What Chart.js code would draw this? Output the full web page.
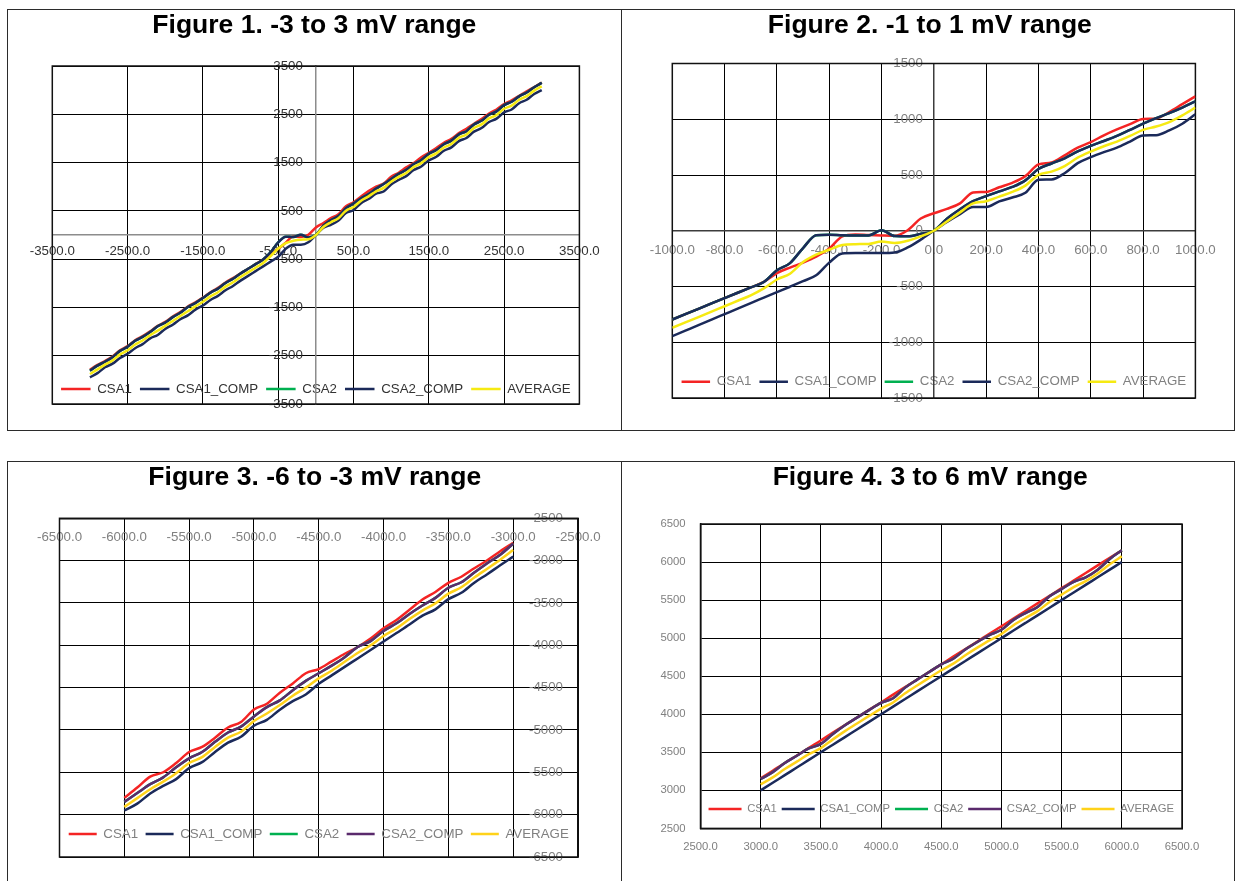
<!DOCTYPE html>
<html>
<head>
<meta charset="utf-8">
<title>CSA linearity</title>
<script src="https://cdn.jsdelivr.net/npm/chart.js@4.4.1/dist/chart.umd.min.js"></script>
<style>
  html, body { margin: 0; padding: 0; background: #fff; }
  body { width: 1236px; height: 881px; position: relative; overflow: hidden; }
  .panel { position: absolute; border: 1px solid #2b2b2b; box-sizing: border-box; background: #fff; }
  canvas { position: absolute; }
</style>
</head>
<body>
<div class="panel" style="left:7px;top:9px;width:615px;height:422px"></div>
<div class="panel" style="left:621px;top:9px;width:614px;height:422px"></div>
<div class="panel" style="left:7px;top:461px;width:615px;height:430px"></div>
<div class="panel" style="left:621px;top:461px;width:614px;height:430px"></div>
<canvas id="c1" width="612" height="419" style="left:8px;top:10px"></canvas>
<canvas id="c2" width="611" height="419" style="left:622px;top:10px"></canvas>
<canvas id="c3" width="612" height="419" style="left:8px;top:462px"></canvas>
<canvas id="c4" width="611" height="419" style="left:622px;top:462px"></canvas>
<script>
// ---- Figure 1: -3 to 3 mV (input, uV) ----
const f1X = [-3000,-2900,-2800,-2700,-2600,-2500,-2400,-2300,-2200,-2100,-2000,-1900,-1800,-1700,-1600,-1500,-1400,-1300,-1200,-1100,
  -1000,-900,-800,-700,-600,-500,-400,-300,-200,-100,0,100,200,300,400,500,600,700,800,900,1000,
  1100,1200,1300,1400,1500,1600,1700,1800,1900,2000,2100,2200,2300,2400,2500,2600,2700,2800,2900,3000];
const f1Csa1 = [-2790,-2690,-2610,-2515,-2385,-2300,-2180,-2095,-1995,-1880,-1800,-1690,-1595,-1480,-1395,-1295,-1185,-1095,-985,-890,
  -796,-700,-604,-508,-380,-286,-160,-33,-42,5,157,246,348,430,595,676,795,909,1003,1065,1205,
  1290,1400,1490,1610,1700,1800,1910,1990,2110,2200,2305,2400,2515,2600,2710,2790,2880,2975,3065,3157];
const f1Csa1Comp = [-2948,-2860,-2740,-2665,-2545,-2460,-2345,-2260,-2140,-2070,-1945,-1860,-1745,-1665,-1545,-1460,-1345,-1260,-1145,-1055,
  -945,-847,-748,-649,-551,-452,-286,-200,-200,-150,0,149,212,298,457,516,660,745,855,900,1045,
  1140,1220,1345,1420,1545,1620,1745,1815,1945,2010,2140,2215,2340,2410,2540,2600,2730,2800,2920,3000];
const f1Csa2Comp = [-2810,-2705,-2625,-2530,-2400,-2315,-2190,-2110,-2010,-1890,-1815,-1700,-1610,-1490,-1410,-1305,-1195,-1110,-995,-905,
  -796,-700,-604,-508,-355,-155,-35,-42,5,-50,0,193,311,393,554,650,762,850,960,1055,1160,
  1265,1350,1470,1555,1680,1760,1880,1955,2085,2150,2290,2365,2490,2560,2690,2760,2870,2950,3060,3149];
const f1Csa2 = f1Csa2Comp;
const f1Avg = [-2879,-2783,-2683,-2598,-2473,-2388,-2268,-2185,-2075,-1980,-1880,-1780,-1678,-1578,-1478,-1383,-1270,-1185,-1070,-980,
  -870,-774,-677,-579,-437,-281,-170,-120,-96,-90,0,165,265,348,502,580,710,800,905,975,1104,
  1203,1285,1408,1488,1612,1690,1812,1885,2015,2080,2215,2290,2415,2485,2615,2680,2800,2875,2990,3079];
const f1XTicks = [-3500,-2500,-1500,-500,500,1500,2500,3500];
const f1YTicks = [-3500,-2500,-1500,-500,500,1500,2500,3500];

// ---- Figure 2: -1 to 1 mV ----
const f2X = [-1000,-950,-900,-850,-800,-750,-700,-650,-600,-550,-500,-450,-400,-350,-300,-250,-200,-150,-100,-50,
  0,50,100,150,200,250,300,350,400,450,500,550,600,650,700,750,800,850,900,950,1000];
const f2Csa1 = [-796,-748,-700,-652,-604,-556,-508,-458,-380,-330,-286,-232,-160,-50,-33,-38,-42,-45,5,110,
  157,196,246,343,348,390,430,490,595,612,676,746,795,856,909,956,1003,1007,1065,1135,1205];
const f2Csa1Comp = [-945,-896,-847,-797,-748,-699,-649,-600,-551,-502,-452,-400,-286,-203,-200,-200,-200,-195,-150,-80,
  0,79,149,214,212,263,298,341,457,460,516,606,660,705,745,800,855,857,900,960,1045];
const f2Csa2Comp = [-796,-748,-700,-652,-604,-556,-508,-460,-355,-290,-155,-40,-35,-40,-42,-42,5,-48,-50,-28,
  0,109,193,265,311,353,393,452,554,603,650,711,762,805,850,905,960,1010,1055,1105,1160];
const f2Csa2 = f2Csa2Comp;
const f2Avg = [-870,-822,-774,-725,-677,-628,-579,-517,-437,-385,-281,-215,-170,-128,-120,-118,-96,-110,-90,-50,
  0,83,165,245,265,306,348,405,502,530,580,655,710,758,800,850,905,935,975,1035,1104];
const f2XTicks = [-1000,-800,-600,-400,-200,0,200,400,600,800,1000];
const f2YTicks = [-1500,-1000,-500,0,500,1000,1500];

// ---- Figure 3: -6 to -3 mV ----
const f3X = [-6000,-5900,-5800,-5700,-5600,-5500,-5400,-5300,-5200,-5100,-5000,-4900,-4800,-4700,-4600,-4500,
  -4400,-4300,-4200,-4100,-4000,-3900,-3800,-3700,-3600,-3500,-3400,-3300,-3200,-3100,-3000];
const f3Csa1 = [-5802,-5680,-5550,-5499,-5390,-5260,-5200,-5091,-4970,-4906,-4758,-4690,-4560,-4450,-4330,-4280,
  -4190,-4100,-4020,-3920,-3800,-3700,-3580,-3460,-3370,-3262,-3190,-3090,-2995,-2890,-2790];
const f3Csa1Comp = [-5951,-5870,-5750,-5660,-5580,-5450,-5380,-5260,-5150,-5080,-4950,-4880,-4760,-4660,-4580,-4455,
  -4355,-4255,-4155,-4055,-3955,-3855,-3755,-3650,-3575,-3455,-3380,-3260,-3160,-3055,-2953];
const f3Csa2Comp = [-5849,-5745,-5640,-5560,-5440,-5335,-5260,-5140,-5030,-4960,-4840,-4730,-4650,-4530,-4420,-4330,
  -4240,-4140,-4020,-3950,-3830,-3740,-3630,-3530,-3440,-3320,-3255,-3140,-3030,-2930,-2800];
const f3Csa2 = f3Csa2Comp;
const f3Avg = [-5908,-5805,-5700,-5610,-5510,-5390,-5320,-5200,-5090,-5020,-4895,-4805,-4705,-4595,-4500,-4390,
  -4300,-4195,-4090,-4000,-3890,-3800,-3690,-3590,-3505,-3390,-3315,-3200,-3095,-2990,-2875];
const f3XTicks = [-6500,-6000,-5500,-5000,-4500,-4000,-3500,-3000,-2500];
const f3YTicks = [-6500,-6000,-5500,-5000,-4500,-4000,-3500,-3000,-2500];

// ---- Figure 4: 3 to 6 mV ----
const f4X = [3000,3100,3200,3300,3400,3500,3600,3700,3800,3900,4000,4100,4200,4300,4400,4500,
  4600,4700,4800,4900,5000,5100,5200,5300,5400,5500,5600,5700,5800,5900,6000];
const f4Csa1 = [3157,3258,3360,3458,3558,3655,3758,3858,3957,4058,4155,4258,4357,4456,4557,4656,
  4758,4857,4956,5058,5157,5256,5357,5457,5556,5657,5756,5856,5957,6056,6153];
const f4Csa1Comp = [3000,3100,3200,3300,3400,3500,3600,3700,3800,3900,4000,4100,4200,4300,4400,4500,
  4600,4700,4800,4900,5000,5100,5200,5300,5400,5500,5600,5700,5800,5900,6000];
const f4Csa2Comp = [3149,3240,3360,3455,3550,3610,3740,3855,3955,4055,4150,4210,4350,4455,4555,4655,
  4730,4850,4950,5040,5110,5240,5330,5410,5550,5645,5740,5800,5900,6040,6155];
const f4Csa2 = f4Csa2Comp;
const f4Avg = [3079,3170,3280,3378,3475,3555,3670,3778,3878,3978,4075,4155,4275,4378,4478,4578,
  4665,4775,4875,4970,5055,5170,5265,5355,5475,5572,5670,5750,5850,5970,6075];
const f4XTicks = [2500,3000,3500,4000,4500,5000,5500,6000,6500];
const f4YTicks = [2500,3000,3500,4000,4500,5000,5500,6000,6500];

const SERIES = ['CSA1', 'CSA1_COMP', 'CSA2', 'CSA2_COMP', 'AVERAGE'];
const FONT = '"Liberation Sans", Arial, Helvetica, sans-serif';
const RED = '#f42424', NAVY = '#1b2a5a', GREEN = '#00b050', PURPLE = '#5a2a6c';
const YELLOW = '#f6ea12', GOLD = '#ffd21a';

// places the legend row inside the plot box (just above its lower edge)
// and nudges the heading sideways
const blockPlacement = {
  id: 'blockPlacement',
  afterLayout(chart, args, opts) {
    const lg = chart.legend;
    if (lg && opts.legendRise != null) {
      const lab = lg.options.labels;
      const h = lg.height;
      lg.top = chart.chartArea.bottom - opts.legendRise - lab.padding - lab.font.size / 2;
      lg.bottom = lg.top + h;
    }
    const tb = chart.titleBlock;
    if (tb && opts.titleShift) {
      tb.left += opts.titleShift;
      tb.right += opts.titleShift;
    }
  }
};

// outline of the plot box
const plotFrame = {
  id: 'plotFrame',
  beforeDatasetsDraw(chart, args, opts) {
    const a = chart.chartArea, ctx = chart.ctx;
    ctx.save();
    ctx.strokeStyle = opts.color || '#000';
    ctx.lineWidth = opts.width || 1.5;
    ctx.strokeRect(a.left, a.top, a.right - a.left, a.bottom - a.top);
    ctx.restore();
  }
};

function points(xs, ys) {
  return xs.map((x, i) => ({ x: x, y: ys[i] }));
}

// axis boxes take no room, so the plot box is set by the layout padding
function scale(axisId, ticksArr, position, fmt, c, pad, mirror, crossAlign) {
  return {
    type: 'linear',
    axis: axisId,
    min: ticksArr[0],
    max: ticksArr[ticksArr.length - 1],
    position: position,
    afterFit: s => { if (axisId === 'x') { s.height = 0; } else { s.width = 0; } },
    afterBuildTicks: s => { s.ticks = ticksArr.map(v => ({ value: v })); },
    ticks: {
      autoSkip: false, maxRotation: 0, minRotation: 0, padding: pad, mirror: !!mirror,
      crossAlign: crossAlign || 'near',
      color: c.labelColor, font: { family: FONT, size: c.fontSize },
      callback: fmt
    },
    grid: { color: '#000', lineWidth: 1, drawTicks: false },
    border: { display: true, color: c.axisColor, width: 1.5 }
  };
}

function buildChart(c) {
  const datasets = SERIES.map((name, i) => ({
    label: name,
    data: points(c.xs, c.series[i]),
    borderColor: c.colors[i],
    backgroundColor: c.colors[i],
    borderWidth: 2.5,
    pointRadius: 0,
    pointHoverRadius: 0,
    cubicInterpolationMode: 'monotone',
    order: SERIES.length - 1 - i
  }));
  return new Chart(document.getElementById(c.id), {
    type: 'line',
    data: { datasets: datasets },
    plugins: [blockPlacement, plotFrame],
    options: {
      responsive: false,
      devicePixelRatio: 1,
      animation: false,
      events: [],
      layout: { padding: c.pad },
      scales: {
        x: scale('x', c.xTicks, c.xPos, v => Number(v).toFixed(1), c, c.xPad, false, 'near'),
        y: scale('y', c.yTicks, c.yPos, v => String(v), c, c.yPad, c.yMirror, c.yCross)
      },
      plugins: {
        tooltip: { enabled: false },
        title: {
          display: true, text: c.title, color: '#000',
          font: { family: FONT, size: 26.5, weight: 'bold', lineHeight: 1 },
          padding: c.titlePad
        },
        legend: {
          display: true,
          position: 'bottom',
          labels: {
            color: c.labelColor,
            font: { family: FONT, size: c.legendFont },
            boxWidth: c.legendBox,
            boxHeight: 2.5,
            padding: c.legendPad,
            sort: (a, b) => a.datasetIndex - b.datasetIndex,
            generateLabels: chart => Chart.defaults.plugins.legend.labels.generateLabels(chart)
              .map(it => Object.assign(it, { lineWidth: 0, fillStyle: it.strokeStyle }))
          }
        },
        blockPlacement: { legendRise: c.legendRise, titleShift: c.titleShift },
        plotFrame: { color: '#111', width: 1.5 }
      }
    }
  });
}

buildChart({
  id: 'c1', title: 'Figure 1. -3 to 3 mV range',
  xs: f1X, series: [f1Csa1, f1Csa1Comp, f1Csa2, f1Csa2Comp, f1Avg],
  colors: [RED, NAVY, GREEN, NAVY, YELLOW],
  xTicks: f1XTicks, yTicks: f1YTicks, xPos: { y: 0 }, yPos: 'center',
  pad: { left: 44.3, right: 40.6, top: 0, bottom: -6.3 },
  titlePad: { top: 2, bottom: 27.5 }, titleShift: -1.5,
  labelColor: '#333333', axisColor: '#8c8c8c', fontSize: 13.3, xPad: 8, yPad: 13,
  legendFont: 13.3, legendBox: 29.5, legendPad: 8, legendRise: 15
});

buildChart({
  id: 'c2', title: 'Figure 2. -1 to 1 mV range',
  xs: f2X, series: [f2Csa1, f2Csa1Comp, f2Csa2, f2Csa2Comp, f2Avg],
  colors: [RED, NAVY, GREEN, NAVY, YELLOW],
  xTicks: f2XTicks, yTicks: f2YTicks, xPos: { y: 0 }, yPos: 'center',
  pad: { left: 50.3, right: 37.6, top: 0, bottom: -0.3 },
  titlePad: { top: 2, bottom: 25 }, titleShift: -4,
  labelColor: '#808080', axisColor: '#3c3c3c', fontSize: 13.3, xPad: 11.3, yPad: 11,
  legendFont: 13.3, legendBox: 28.5, legendPad: 8, legendRise: 16.3
});

buildChart({
  id: 'c3', title: 'Figure 3. -6 to -3 mV range',
  xs: f3X, series: [f3Csa1, f3Csa1Comp, f3Csa2, f3Csa2Comp, f3Avg],
  colors: [RED, NAVY, GREEN, PURPLE, GOLD],
  xTicks: f3XTicks, yTicks: f3YTicks, xPos: { y: -2500 }, yPos: 'right', yMirror: true,
  pad: { left: 51.5, right: 42, top: 0, bottom: -6.8 },
  titlePad: { top: 2.5, bottom: 27.3 }, titleShift: -4,
  labelColor: '#808080', axisColor: '#111', fontSize: 13.3, xPad: 11, yPad: -15,
  legendFont: 13.3, legendBox: 28, legendPad: 7.5, legendRise: 23
});

buildChart({
  id: 'c4', title: 'Figure 4. 3 to 6 mV range',
  xs: f4X, series: [f4Csa1, f4Csa1Comp, f4Csa2, f4Csa2Comp, f4Avg],
  colors: [RED, NAVY, GREEN, PURPLE, GOLD],
  xTicks: f4XTicks, yTicks: f4YTicks, xPos: { y: 2500 }, yPos: 'left', yMirror: true, yCross: 'far',
  pad: { left: 78.5, right: 51, top: 0, bottom: 26.3 },
  titlePad: { top: 2.5, bottom: 33 }, titleShift: -11,
  labelColor: '#808080', axisColor: '#111', fontSize: 11.3, xPad: 12.1, yPad: -40,
  legendFont: 11.3, legendBox: 33, legendPad: 5, legendRise: 19.4
});
</script>
</body>
</html>
